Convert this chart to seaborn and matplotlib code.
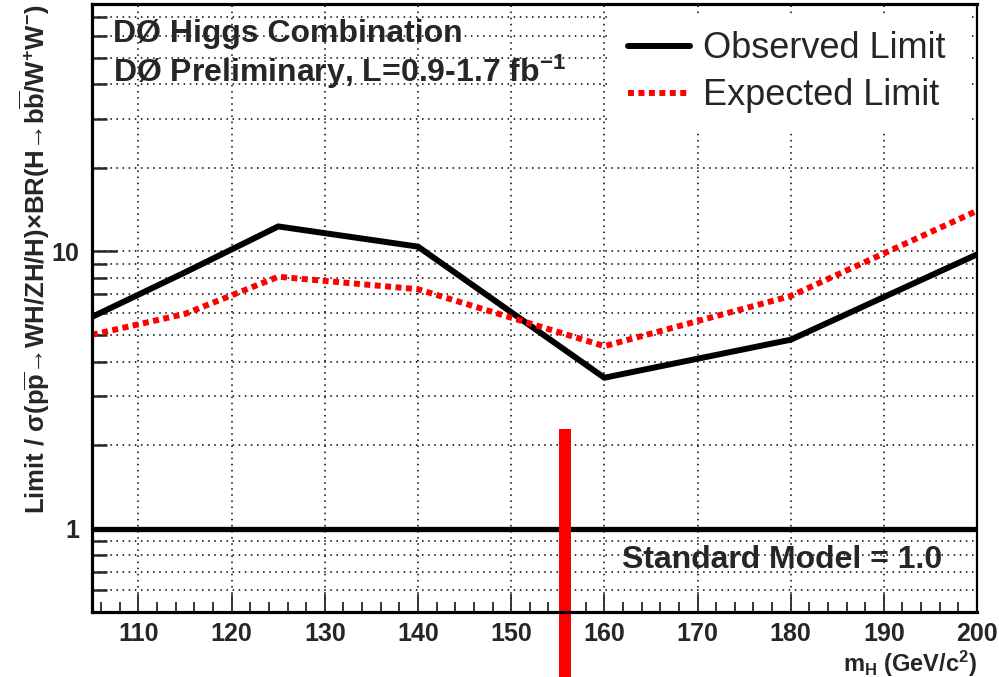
import matplotlib
matplotlib.use("Agg")
import matplotlib.pyplot as plt
import matplotlib.ticker as ticker
from matplotlib.lines import Line2D
from matplotlib.patches import Rectangle
import pandas as pd
import seaborn as sns

# Higgs mass points (GeV/c^2) and limits / SM
masses = [105, 115, 125, 140, 160, 180, 200]
observed = [5.8, 8.4, 12.3, 10.4, 3.5, 4.8, 9.75]
expected = [5.0, 5.95, 8.1, 7.3, 4.55, 6.9, 14.0]
series_names = ["Observed Limit", "Expected Limit"]

sm_level = 1.0
marker_mass = 155.8
marker_top = 2.28
marker_bottom = 0.29

x_ticks = list(range(110, 201, 10))
y_ticks = [1, 10]
y_tick_labels = ["1", "10"]

df = pd.DataFrame({
    "mass": masses * 2,
    "limit": observed + expected,
    "type": [series_names[0]] * len(masses) + [series_names[1]] * len(masses),
})

sns.set_style("ticks")
plt.rcParams["font.family"] = ["Liberation Sans", "DejaVu Sans"]
plt.rcParams["mathtext.fontset"] = "custom"
plt.rcParams["mathtext.rm"] = "Liberation Sans:bold"
plt.rcParams["mathtext.it"] = "Liberation Sans:bold"
plt.rcParams["mathtext.bf"] = "Liberation Sans:bold"
plt.rcParams["mathtext.sf"] = "Liberation Sans:bold"

fig = plt.figure(figsize=(9.99, 6.77), dpi=100)
ax = fig.add_axes([0.092, 0.096, 0.886, 0.898])

palette = {series_names[0]: "black", series_names[1]: "#ff0000"}
dashes = {series_names[0]: "", series_names[1]: (1, 0.75)}
sns.lineplot(data=df, x="mass", y="limit", hue="type", style="type",
             palette=palette, dashes=dashes, linewidth=4.3, legend=False,
             ax=ax, zorder=3)

ax.set_yscale("log")
ax.set_xlim(105, 200)
ax.set_ylim(0.5, 78)

ax.axhline(sm_level, color="black", lw=3.8, zorder=3)

# red marker bar, runs below the frame
ax.plot([marker_mass, marker_mass], [marker_bottom, marker_top], color="#ff0000",
        lw=8.6, solid_capstyle="butt", clip_on=False, zorder=6)

# ticks and grid
ax.xaxis.set_major_locator(ticker.FixedLocator(x_ticks))
ax.xaxis.set_minor_locator(ticker.MultipleLocator(2))
ax.yaxis.set_major_locator(ticker.FixedLocator(y_ticks))
ax.yaxis.set_minor_locator(ticker.LogLocator(base=10, subs=range(2, 10)))
ax.yaxis.set_major_formatter(ticker.FixedFormatter(y_tick_labels))
ax.yaxis.set_minor_formatter(ticker.NullFormatter())

ax.tick_params(axis="x", which="major", direction="in", length=13, width=1.3,
               labelsize=18, pad=7, top=False)
ax.tick_params(axis="x", which="minor", direction="in", length=7, width=1.3, top=False)
ax.tick_params(axis="y", which="major", direction="in", length=18, width=1.8,
               labelsize=18, pad=9, right=False)
ax.tick_params(axis="y", which="minor", direction="in", length=11, width=1.8, right=False)
for lab in ax.get_xticklabels() + ax.get_yticklabels():
    lab.set_fontweight("bold")

ax.set_axisbelow(True)
grid_kw = dict(color="black", linestyle=(0, (1, 3)), linewidth=1.1)
ax.grid(True, axis="x", which="major", **grid_kw)
ax.grid(True, axis="y", which="both", **grid_kw)

for side in ["left", "bottom", "top"]:
    ax.spines[side].set_linewidth(2.3)
ax.spines["right"].set_linewidth(1.6)
for s in ax.spines.values():
    s.set_color("black")
    s.set_zorder(7)

ax.set_xlabel(r"m$_{\mathrm{H}}$ (GeV/c$^{2}$)", fontsize=17, fontweight="bold", loc="right")
ax.xaxis.set_label_coords(1.0, -0.06)
ax.set_ylabel(r"Limit / σ(p$\overline{\mathrm{p}}$→WH/ZH/H)×BR(H→b$\overline{\mathrm{b}}$/W$^{+}$W$^{-}$)",
              fontsize=18.5, fontweight="bold", loc="top")
ax.yaxis.set_label_coords(-0.045, 1.0)

# white legend panel over the grid
ax.add_patch(Rectangle((0.582, 0.792), 0.41, 0.19, transform=ax.transAxes,
                       facecolor="white", edgecolor="none", zorder=1))
handles = [Line2D([], [], color="black", lw=4.3),
           Line2D([], [], color="#ff0000", lw=4.3, linestyle=(0, (1, 0.75)))]
leg = ax.legend(handles, series_names, loc="upper left", bbox_to_anchor=(0.606, 0.955),
                frameon=False, fontsize=26, handlelength=1.72, handletextpad=0.36,
                labelspacing=0.33, borderpad=0, borderaxespad=0)
leg.set_zorder(8)

ax.text(0.0237, 0.938, "DØ Higgs Combination", transform=ax.transAxes,
        fontsize=23, fontweight="bold", ha="left", va="baseline", zorder=8)
ax.text(0.0237, 0.872, r"DØ Preliminary, L=0.9-1.7 fb$^{-1}$", transform=ax.transAxes,
        fontsize=23, fontweight="bold", ha="left", va="baseline", zorder=8)
ax.text(0.78, 0.0855, "Standard Model = 1.0", transform=ax.transAxes,
        fontsize=23, fontweight="bold", ha="center", va="center", zorder=8)

fig.savefig("out.png", dpi=100)
plt.close(fig)
